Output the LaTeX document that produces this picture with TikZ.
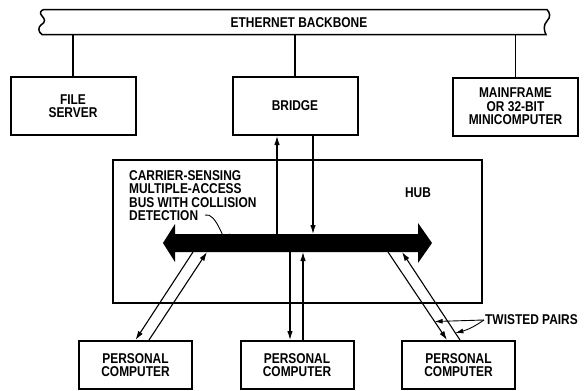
\documentclass[tikz,border=0pt]{standalone}
\usepackage{fontspec}
\setmainfont{Liberation Sans}[FakeStretch=0.84]
\usetikzlibrary{arrows.meta}

\begin{document}
\begin{tikzpicture}[x=1pt,y=-1pt,
  lbl/.style={font=\bfseries\fontsize{14.2}{13.5}\selectfont, align=center, inner sep=1pt},
  box/.style={lbl, draw, line width=2pt, minimum width=125pt, minimum height=58pt},
  pcbox/.style={lbl, draw, line width=2pt, minimum width=113pt, minimum height=48pt},
  link/.style={line width=1.2pt},
  arr/.style={line width=1.1pt, -{Latex[length=9pt,width=5.5pt]}},
  lead/.style={line width=0.9pt, -{Latex[length=8pt,width=5pt]}}]
  \useasboundingbox (0,0) rectangle (584,391);

  % Ethernet backbone (tube with broken ends)
  \draw[line width=1.5pt, fill=white]
  (44,9.5) -- (547,9.5)
  .. controls (550,13) and (551,17) .. (547,21)
  .. controls (543,25) and (544,31) .. (546,34.5)
  -- (42,34.5)
  .. controls (38,32) and (38,27) .. (41,25)
  .. controls (46,22) and (45,19) .. (42,16)
  .. controls (39,13) and (41,10) .. (44,9.5) -- cycle;
  \node[lbl] (bbname) at (299,22.5) {ETHERNET BACKBONE};
  \coordinate (bbbottom) at (0,34.5);

  % Stations on the backbone
  \node[box] (server) at (73,106) {FILE\\SERVER};
  \node[box] (bridge) at (295,106) {BRIDGE};
  \node[box] (mainframe) at (515.5,106.5) {MAINFRAME\\OR 32-BIT\\MINICOMPUTER};

  \draw[link] (server.north) -- (server.north |- bbbottom);
  \draw[link] (bridge.north) -- (bridge.north |- bbbottom);
  \draw[link] (mainframe.north) -- (mainframe.north |- bbbottom);

  % Hub with the bus
  \node[draw, line width=2pt, minimum width=369pt, minimum height=143pt] (hub) at (297.5,231.5) {};
  \node[lbl] (hubname) at (418,193) {HUB};
  \node[lbl, align=left, anchor=north west, inner sep=0pt] (bustext) at (129,170)
  {CARRIER-SENSING\\MULTIPLE-ACCESS\\BUS WITH COLLISION\\DETECTION};

  \fill (163,243) -- (175,224) -- (175,234) -- (418,234) -- (418,223) -- (432,243)
  -- (418,263) -- (418,252) -- (175,252) -- (175,262) -- cycle;
  \coordinate (bustop) at (0,234);
  \coordinate (busbot) at (0,252);
  \coordinate (detend) at (205,215);
  \coordinate (busdet) at (230,233);
  \coordinate (busL1) at (193,252);
  \coordinate (busL2) at (207,252);
  \coordinate (busR1) at (388,252);
  \coordinate (busR2) at (402,252);

  \draw[lead] (detend) to[out=15,in=240] (busdet);

  % Bridge to bus
  \draw[arr] ([xshift=-18pt]bridge.south |- bustop) -- ([xshift=-18pt]bridge.south);
  \draw[arr] ([xshift=18pt]bridge.south) -- ([xshift=18pt]bridge.south |- bustop);

  % Personal computers
  \node[pcbox] (pcleft) at (135.5,365) {PERSONAL\\COMPUTER};
  \node[pcbox] (pcmid) at (297,365) {PERSONAL\\COMPUTER};
  \node[pcbox] (pcright) at (458.5,365) {PERSONAL\\COMPUTER};

  \draw[arr] (busL1) -- (pcleft.north);
  \draw[arr] ([xshift=13.5pt]pcleft.north) -- (busL2);
  \draw[arr] ([xshift=-7pt]pcmid.north |- busbot) -- ([xshift=-7pt]pcmid.north);
  \draw[arr] ([xshift=6pt]pcmid.north) -- ([xshift=6pt]pcmid.north |- busbot);
  \draw[arr] (busR1) -- ([xshift=-11.5pt]pcright.north) coordinate[pos=0.79] (twA);
  \draw[arr] ([xshift=1.5pt]pcright.north) -- (busR2) coordinate[pos=0.08] (twB);

  % Twisted pairs label
  \node[lbl, anchor=west] (twisted) at (484,320) {TWISTED PAIRS};
  \draw[lead] (twisted.west) -- (twA);
  \draw[lead] (twisted.west) to[bend left=10] (twB);
\end{tikzpicture}
\end{document}
